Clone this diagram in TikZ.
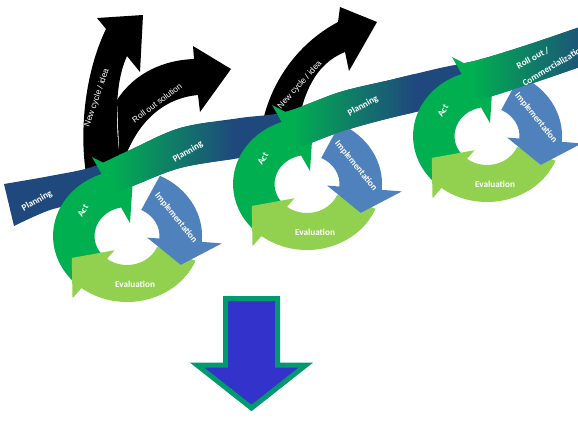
\documentclass[tikz,border=0pt]{standalone}
\usepackage{fontspec}
\newfontfamily\cycfont{Carlito}
\newfontfamily\blkfont{Liberation Sans}
\definecolor{bandblue}{HTML}{1F497D}
\definecolor{actgreen}{HTML}{00B050}
\definecolor{implblue}{HTML}{4F81BD}
\definecolor{evalgreen}{HTML}{92D050}
\definecolor{dnfill}{HTML}{3333CC}
\definecolor{dnedge}{HTML}{009A6E}
\begin{document}
\begin{tikzpicture}[x=1pt,y=-1pt,
  cyctext/.style={font=\cycfont\bfseries\fontsize{9.2}{10}\selectfont, text=white, inner sep=0pt},
  blktext/.style={font=\blkfont\fontsize{8.4}{9}\selectfont, text=white, inner sep=0pt},
  blackarrow/.style={fill=black},
  bandpath/.style={insert path={plot[smooth,tension=0.55] coordinates {(4,184) (50,176) (92,167) (130,150) (180,128) (240,118) (285,112) (340,92) (390,80) (440,68) (478,60) (530,44) (600,20)} -- plot[smooth,tension=0.55] coordinates {(600,60) (530,84) (478,100) (440,107) (390,118) (340,132) (285,152) (240,158) (180,168) (130,187) (92,200) (50,210) (14,226)} -- cycle}},
]
\useasboundingbox (0,0) rectangle (578,424);

% black arrows
\fill[blackarrow] (87,180) .. controls (78,130) and (86,70) .. (106,29) -- (97,18) -- (143,15) -- (140,72) -- (127,56) .. controls (116,80) and (113,120) .. (123,180) -- cycle;
\fill[blackarrow] (117,100) .. controls (135,72) and (165,60) .. (194,59) -- (193,46) -- (231,69) -- (200,112) -- (198,95) .. controls (165,98) and (135,120) .. (120,172) -- cycle;
\fill[blackarrow] (262,125) .. controls (270,85) and (295,45) .. (338,22) -- (340,7) -- (377,22) -- (349,71) -- (345,52) .. controls (320,62) and (305,85) .. (298,125) -- cycle;

% band base
\fill[bandblue, bandpath];

% cycles
\foreach \cx/\cy in {127/236, 307/184, 487/136} {
  \begin{scope}[shift={(\cx,\cy)}, xscale=1.12, yscale=-1]
    \fill[actgreen] (232:66) arc[start angle=232, end angle=95, radius=66] -- (95:29) arc[start angle=95, end angle=232, radius=29] -- cycle;
  \end{scope}
  \begin{scope}[shift={(\cx,\cy)}]
    \fill[actgreen] (-35,-79) -- (6,-58) -- (3,-13) -- cycle;
  \end{scope}
  \begin{scope}[shift={(\cx,\cy)}, xscale=1.12, yscale=-1]
    \fill[evalgreen] (-22:66) arc[start angle=-22, end angle=-128, radius=66] -- (-128:79) -- (-156:54) -- (-128:18) -- (-128:29) arc[start angle=-128, end angle=-22, radius=29] -- cycle;
    \fill[implblue] (64:67) arc[start angle=64, end angle=-5, radius=67] -- (-5:85) -- (-31:56) -- (-5:18) -- (-5:29) arc[start angle=-5, end angle=64, radius=29] -- cycle;
  \end{scope}
}

% gradient band segments
\foreach \cx/\cy in {127/236, 307/184, 487/136} {
  \begin{scope}
    \clip[bandpath];
    \begin{scope}[shift={(\cx,\cy)}]
      \clip (-55,-114) -- (13,4) -- (213,4) -- (145,-114) -- cycle;
      \fill[actgreen] (-60,-130) rectangle (-15,10);
      \shade[left color=actgreen, right color=bandblue] (-15.5,-130) rectangle (106,10);
    \end{scope}
  \end{scope}
}

% band labels
\node[cyctext, rotate=30] (plan0) at (37,201) {Planning};
\node[cyctext, rotate=31] (plan1) at (188,152) {Planning};
\node[cyctext, rotate=30] (plan2) at (363,106) {Planning};
\node[cyctext, rotate=28] (roll3) at (533,58) {Roll out /};
\node[cyctext, rotate=31, anchor=west] (comm3) at (523,84) {Commercialization};

% cycle labels
\foreach \cx/\cy/\k in {127/236/1, 307/184/2, 487/136/3} {
  \node[cyctext, rotate=58] (act\k) at (\cx-44,\cy-25) {Act};
  \node[cyctext, rotate=-51] (impl\k) at (\cx+49,\cy-18) {Implementation};
  \node[cyctext] (eval\k) at (\cx+8,\cy+48) {Evaluation};
}

% black arrow labels
\node[blktext, rotate=71] (nc1) at (97,98) {New cycle / idea};
\node[blktext, rotate=37] (ros) at (157,103) {Roll out solution};
\node[blktext, rotate=48] (nc2) at (300,85) {New cycle / idea};

% down arrow
\draw[line width=5pt, draw=dnedge, fill=dnfill, line join=miter] (225.5,298.5) -- (277.5,298.5) -- (277.5,365) -- (306,365) -- (251.5,408) -- (197,365) -- (225.5,365) -- cycle;
\end{tikzpicture}
\end{document}
